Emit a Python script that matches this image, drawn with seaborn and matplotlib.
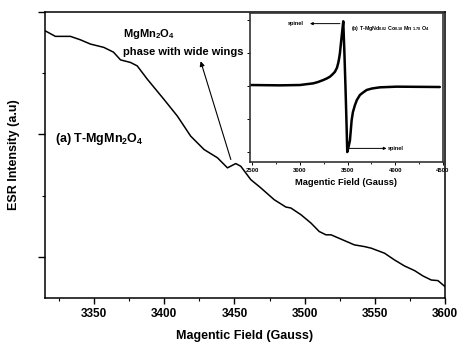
import matplotlib
matplotlib.use("Agg")
import matplotlib.pyplot as plt
import seaborn as sns
import pandas as pd
from matplotlib.ticker import MultipleLocator, NullFormatter

sns.set_theme(style="ticks")
plt.rcParams['font.family'] = ['Liberation Sans', 'DejaVu Sans']
plt.rcParams['font.weight'] = 'bold'
plt.rcParams['axes.labelweight'] = 'bold'
plt.rcParams['text.color'] = 'black'
plt.rcParams['axes.labelcolor'] = 'black'
plt.rcParams['xtick.color'] = 'black'
plt.rcParams['ytick.color'] = 'black'
plt.rcParams['xtick.labelcolor'] = 'black'
plt.rcParams['ytick.labelcolor'] = 'black'
plt.rcParams['mathtext.fontset'] = 'custom'
plt.rcParams['mathtext.rm'] = 'Liberation Sans:bold'
plt.rcParams['mathtext.bf'] = 'Liberation Sans:bold'
plt.rcParams['mathtext.it'] = 'Liberation Sans:bold'
plt.rcParams['mathtext.default'] = 'rm'

# Main spectrum: T-MgMn2O4 (field in Gauss, intensity in arbitrary units)
main_field = [3315, 3322.4, 3333.1, 3340.2, 3347.4, 3356.9, 3363.8, 3368.8, 3375.9,
              3380.7, 3387.9, 3399.7, 3409.3, 3418.8, 3428.3, 3437.9, 3445.0, 3450.9,
              3454.5, 3461.6, 3468.8, 3478.3, 3486.6, 3490.2, 3497.4, 3504.5, 3510.4,
              3515.2, 3518.8, 3525.9, 3535.4, 3542.6, 3547.4, 3556.9, 3564.0, 3571.1,
              3578.3, 3584.3, 3590.2, 3595.0, 3600]
main_intensity = [2.847, 2.801, 2.801, 2.773, 2.738, 2.711, 2.672, 2.609, 2.588,
                  2.560, 2.451, 2.287, 2.150, 1.986, 1.877, 1.809, 1.727, 1.762,
                  1.740, 1.631, 1.563, 1.467, 1.407, 1.399, 1.344, 1.276, 1.207,
                  1.180, 1.180, 1.145, 1.098, 1.084, 1.071, 1.030, 0.975, 0.926,
                  0.888, 0.844, 0.811, 0.806, 0.757]

# Inset spectrum: T-MgNd0.02Co0.18Mn1.78O4
inset_field = [2476, 2790, 3000, 3139, 3189, 3244, 3283, 3314, 3341, 3367, 3388,
               3401, 3410, 3419, 3437, 3446, 3454,
               3466, 3477, 3487, 3496, 3513, 3524, 3542, 3555, 3576, 3597, 3629,
               3660, 3699, 3754, 3838, 4013, 4467]
inset_intensity = [0.03, 0.02, 0.03, 0.08, 0.12, 0.18, 0.23, 0.28, 0.35, 0.43, 0.55,
                   0.69, 0.82, 0.99, 1.49, 1.73, 1.95,
                   1.00, 0.00, -1.00, -1.99, -1.79, -1.64, -1.03, -0.79, -0.58, -0.42,
                   -0.27, -0.20, -0.12, -0.076, -0.04, -0.02, -0.03]

main_xticks = [3350, 3400, 3450, 3500, 3550, 3600]
inset_xticks = [2500, 3000, 3500, 4000, 4500]

df_main = pd.DataFrame({"field": main_field, "intensity": main_intensity})
df_inset = pd.DataFrame({"field": inset_field, "intensity": inset_intensity})

fig = plt.figure(figsize=(4.6, 3.49), dpi=100)
ax = fig.add_axes([45/460, 1-298/349, 400/460, 286/349])

sns.lineplot(data=df_main, x="field", y="intensity", ax=ax, color="black",
             linewidth=1.1, sort=False)
ax.set_xlim(3315, 3600)
ax.set_ylim(0.664, 3.0)
ax.set_xticks(main_xticks)
ax.xaxis.set_minor_locator(MultipleLocator(25))
ax.yaxis.set_major_locator(MultipleLocator(1))
ax.yaxis.set_minor_locator(MultipleLocator(0.5))
ax.yaxis.set_major_formatter(NullFormatter())
ax.tick_params(axis='both', which='major', length=4, width=1, labelsize=8.5,
               direction='out', color='black')
ax.tick_params(axis='both', which='minor', length=2.5, width=0.8, direction='out')
ax.tick_params(axis='y', which='major', length=5)
for lab in ax.get_xticklabels():
    lab.set_fontweight('bold')
for s in ax.spines.values():
    s.set_linewidth(1.1)
    s.set_color('black')
ax.set_xlabel("Magentic Field (Gauss)", fontsize=9, fontweight='bold', labelpad=7)
ax.set_ylabel("ESR Intensity (a.u)", fontsize=9, fontweight='bold')
ax.yaxis.set_label_coords(-0.062, 0.5)

ax.text(3322.4, 1.959, r"(a) T-MgMn$_2$O$_4$", fontsize=9, fontweight='bold',
        ha='left', va='center')
ax.text(3370.9, 2.82, r"MgMn$_2$O$_4$", fontsize=8, fontweight='bold',
        ha='left', va='center')
ax.text(3370.9, 2.672, "phase with wide wings", fontsize=8, fontweight='bold',
        ha='left', va='center')
ax.annotate("", xy=(3425.9, 2.598), xytext=(3447.4, 1.795),
            arrowprops=dict(arrowstyle='-|>', color='black', lw=0.8,
                            mutation_scale=7, shrinkA=0, shrinkB=0))

# Inset
axi = fig.add_axes([250/460, 1-162/349, 193/460, 149/349])
axi.set_facecolor('white')
sns.lineplot(data=df_inset, x="field", y="intensity", ax=axi, color="black",
             linewidth=1.8, sort=False)
axi.set_xlim(2476, 4500)
axi.set_ylim(-2.29, 2.2)
axi.set_xticks(inset_xticks)
axi.xaxis.set_minor_locator(MultipleLocator(250))
axi.yaxis.set_major_locator(MultipleLocator(1))
axi.yaxis.set_major_formatter(NullFormatter())
axi.tick_params(axis='both', which='major', length=2.5, width=0.7, labelsize=4.3,
                pad=1.5, direction='out')
axi.tick_params(axis='both', which='minor', length=1.5, width=0.6, direction='out')
for lab in axi.get_xticklabels():
    lab.set_fontweight('bold')
for s in axi.spines.values():
    s.set_linewidth(1.2)
    s.set_color('#333333')
axi.set_xlabel("Magentic Field (Gauss)", fontsize=6.7, fontweight='bold', labelpad=4)
axi.set_ylabel("")

axi.annotate("", xy=(3105, 1.88), xytext=(3419, 1.88),
             arrowprops=dict(arrowstyle='-|>', color='black', lw=0.7,
                             mutation_scale=4, shrinkA=0, shrinkB=0))
axi.text(2958, 1.88, "spinel", fontsize=4, fontweight='bold', ha='center', va='center')
axi.annotate("", xy=(3908, -1.88), xytext=(3505, -1.88),
             arrowprops=dict(arrowstyle='-|>', color='black', lw=0.7,
                             mutation_scale=4, shrinkA=0, shrinkB=0))
axi.text(3922, -1.88, "spinel", fontsize=4, fontweight='bold', ha='left', va='center')
axi.text(3531, 1.73, r"(b) T-MgNd$_{0.02}$ Co$_{0.18}$ Mn $_{1.78}$ O$_4$",
         fontsize=3.8, fontweight='bold', ha='left', va='center')

fig.savefig("out.png", dpi=100)
